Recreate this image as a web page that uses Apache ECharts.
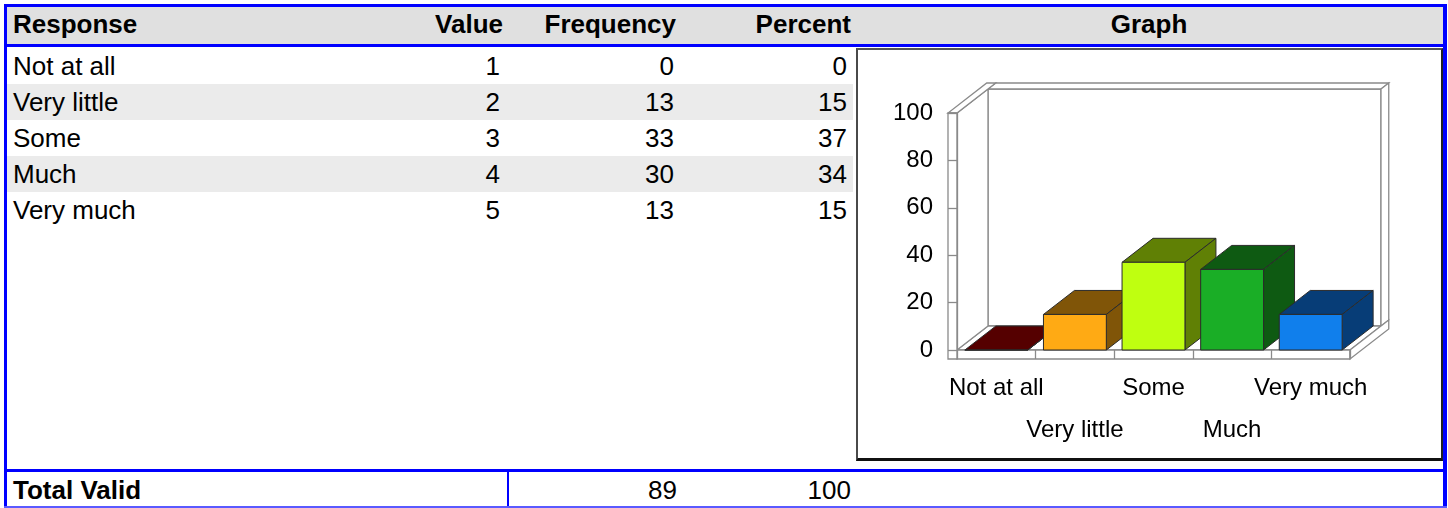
<!DOCTYPE html>
<html>
<head>
<meta charset="utf-8">
<script src="https://cdn.jsdelivr.net/npm/echarts@6/dist/echarts.min.js"></script>
<style>
  html, body { margin: 0; padding: 0; background: #ffffff; }
  body { width: 1448px; height: 508px; position: relative; overflow: hidden;
         font-family: 'Liberation Sans', Arial, sans-serif; color: #000; }
  .abs { position: absolute; }
  .blue { background: #0000ff; }
  .t { position: absolute; font-size: 26px; line-height: 36px; height: 36px; white-space: nowrap; }
  .b { font-weight: bold; }
  .r { text-align: right; width: 200px; }
  .c { text-align: center; width: 300px; }
</style>
</head>
<body>
<div id="page"></div>
<script>
// ---------------- data ----------------
const categories = ['Not at all', 'Very little', 'Some', 'Much', 'Very much'];
const values = [1, 2, 3, 4, 5];
const frequencies = [0, 13, 33, 30, 13];
const percents = [0, 15, 37, 34, 15];
const totalLabel = 'Total Valid';
const totalFrequency = 89;
const totalPercent = 100;
const headers = ['Response', 'Value', 'Frequency', 'Percent', 'Graph'];
const yMin = 0, yMax = 100, yStep = 20;

// ---------------- styles ----------------
const frontColors = ['#7a0000', '#ffaa14', '#bfff10', '#1aae26', '#107fec'];
const darkColors  = ['#550000', '#805508', '#608005', '#0e5a12', '#073d77'];

// ---------------- table (HTML) ----------------
const page = document.getElementById('page');
function box(css, cls) {
  const d = document.createElement('div');
  d.className = 'abs ' + (cls || '');
  Object.assign(d.style, css);
  page.appendChild(d);
  return d;
}
function text(str, css, cls) {
  const d = document.createElement('div');
  d.className = 't ' + (cls || '');
  d.textContent = str;
  Object.assign(d.style, css);
  page.appendChild(d);
  return d;
}
// header background
box({left: '7px', top: '7px', width: '1436px', height: '37px', background: '#e0e0e0'});
// alternating row bands
categories.forEach((c, i) => {
  if (i % 2 === 1) box({left: '7px', top: (48 + 36 * i) + 'px', width: '846px', height: '36px', background: '#ebebeb'});
});
// blue frame lines
box({left: '4px', top: '4px', width: '1443px', height: '3px'}, 'blue');
box({left: '4px', top: '4px', width: '3px', height: '504px'}, 'blue');
box({left: '1443px', top: '4px', width: '4px', height: '504px'}, 'blue');
box({left: '7px', top: '44px', width: '1436px', height: '3px'}, 'blue');
box({left: '4px', top: '469px', width: '1443px', height: '3px'}, 'blue');
box({left: '4px', top: '506px', width: '1443px', height: '2px', background: '#5a5aff'});
box({left: '507px', top: '472px', width: '2px', height: '34px'}, 'blue');

// header texts
text(headers[0], {left: '13px', top: '6px'}, 'b');
text(headers[1], {left: (503 - 200) + 'px', top: '6px'}, 'b r');
text(headers[2], {left: (676 - 200) + 'px', top: '6px'}, 'b r');
text(headers[3], {left: (851 - 200) + 'px', top: '6px'}, 'b r');
text(headers[4], {left: (1149 - 150) + 'px', top: '6px'}, 'b c');

// body rows
categories.forEach((c, i) => {
  const top = (48 + 36 * i) + 'px';
  text(c, {left: '13px', top: top});
  text(String(values[i]), {left: (500 - 200) + 'px', top: top}, 'r');
  text(String(frequencies[i]), {left: (674 - 200) + 'px', top: top}, 'r');
  text(String(percents[i]), {left: (847 - 200) + 'px', top: top}, 'r');
});

// footer
text(totalLabel, {left: '13px', top: '472px'}, 'b');
text(String(totalFrequency), {left: (677 - 200) + 'px', top: '472px'}, 'r');
text(String(totalPercent), {left: (851 - 200) + 'px', top: '472px'}, 'r');

// graph panel
box({left: '856px', top: '48px', width: '587px', height: '413px', boxSizing: 'border-box',
     borderLeft: '2px solid #4a4a4a', borderTop: '2px solid #555555',
     borderRight: '2px solid #222222', borderBottom: '3px solid #111111', background: '#ffffff'});
const chartDiv = box({left: '858px', top: '50px', width: '583px', height: '407px'});

// ---------------- chart ----------------
const DEPTH = [31, -24];      // projection of the depth axis
const WALL = 9;               // left wall thickness (px)
const FLOOR = 9;              // floor thickness (px)
const BACK = 1.25;            // back wall outer depth factor
const WALL_STROKE = '#8a8a8a';
const EDGE = '#2b2b2b';

function renderWalls(params, api) {
  const band = api.size([1, 0])[0];
  const c0 = api.coord([0, yMin]);
  const L = c0[0] - band / 2;
  const R = L + categories.length * band;
  const yB = c0[1];
  const yT = api.coord([0, yMax])[1];
  const dx = DEPTH[0], dy = DEPTH[1], k = BACK;
  const st = {fill: '#ffffff', stroke: WALL_STROKE, lineWidth: 1.3};
  const poly = pts => ({type: 'polygon', shape: {points: pts}, style: st});
  return {type: 'group', children: [
    // back wall
    poly([[L + dx, yT + dy], [R + dx, yT + dy], [R + dx, yB + dy], [L + dx, yB + dy]]),
    poly([[L + dx, yT + dy], [R + dx, yT + dy], [R + k * dx, yT + k * dy], [L + k * dx, yT + k * dy]]),
    poly([[R + dx, yT + dy], [R + k * dx, yT + k * dy], [R + k * dx, yB + k * dy], [R + dx, yB + dy]]),
    // floor
    poly([[L, yB], [R, yB], [R + dx, yB + dy], [L + dx, yB + dy]]),
    poly([[L, yB], [R, yB], [R, yB + FLOOR], [L, yB + FLOOR]]),
    poly([[R, yB], [R + k * dx, yB + k * dy], [R + k * dx, yB + FLOOR + k * dy], [R, yB + FLOOR]]),
    // left wall
    poly([[L, yT], [L + dx, yT + dy], [L + dx, yB + dy], [L, yB]]),
    poly([[L - WALL, yT], [L, yT], [L + k * dx, yT + k * dy], [L - WALL + k * dx, yT + k * dy]]),
    poly([[L - WALL, yT], [L, yT], [L, yB + FLOOR], [L - WALL, yB + FLOOR]])
  ]};
}

function renderBar(params, api) {
  const i = api.value(0);
  const v = api.value(1);
  const top = api.coord([i, v]);
  const base = api.coord([i, 0]);
  const band = api.size([1, 0])[0];
  const bw = band * 0.8;
  const x0 = top[0] - bw / 2, x1 = top[0] + bw / 2;
  const yT = top[1], yB = base[1];
  const dx = DEPTH[0], dy = DEPTH[1];
  const dark = darkColors[i], front = frontColors[i];
  return {type: 'group', children: [
    {type: 'polygon', shape: {points: [[x0, yT], [x1, yT], [x1 + dx, yT + dy], [x0 + dx, yT + dy]]},
     style: {fill: dark, stroke: EDGE, lineWidth: 1}},
    {type: 'polygon', shape: {points: [[x1, yT], [x1 + dx, yT + dy], [x1 + dx, yB + dy], [x1, yB]]},
     style: {fill: dark, stroke: EDGE, lineWidth: 1}},
    {type: 'rect', shape: {x: x0, y: yT, width: bw, height: yB - yT},
     style: {fill: front, stroke: EDGE, lineWidth: 1}}
  ]};
}

const chart = echarts.init(chartDiv, null, {renderer: 'canvas'});
chart.setOption({
  animation: false,
  backgroundColor: 'transparent',
  grid: {left: 99, top: 63, width: 393, height: 237},
  xAxis: {
    type: 'category',
    data: categories,
    z: 10,
    axisLine: {show: false},
    axisTick: {show: true, length: 9, inside: false, alignWithLabel: false,
               lineStyle: {color: WALL_STROKE, width: 1.3}},
    axisLabel: {
      interval: 0, margin: 17, fontSize: 24, lineHeight: 42, color: '#000',
      fontFamily: "'Liberation Sans', Arial, sans-serif",
      formatter: (v, idx) => (idx % 2 === 1 ? '\n' + v : v)
    },
    splitLine: {show: false}
  },
  yAxis: {
    type: 'value',
    min: yMin, max: yMax, interval: yStep,
    z: 10,
    axisLine: {show: true, lineStyle: {color: WALL_STROKE, width: 1.3}},
    axisTick: {show: true, length: 9, inside: false, lineStyle: {color: WALL_STROKE, width: 1.3}},
    axisLabel: {margin: 24, fontSize: 24, color: '#000',
                fontFamily: "'Liberation Sans', Arial, sans-serif"},
    splitLine: {show: false}
  },
  series: [
    {type: 'custom', name: 'walls', clip: false, silent: true, z: 1,
     data: [[0, 0]], renderItem: renderWalls},
    {type: 'custom', name: 'Percent', clip: false, z: 5,
     data: percents.map((p, i) => [i, p]), renderItem: renderBar}
  ]
});
</script>
</body>
</html>
